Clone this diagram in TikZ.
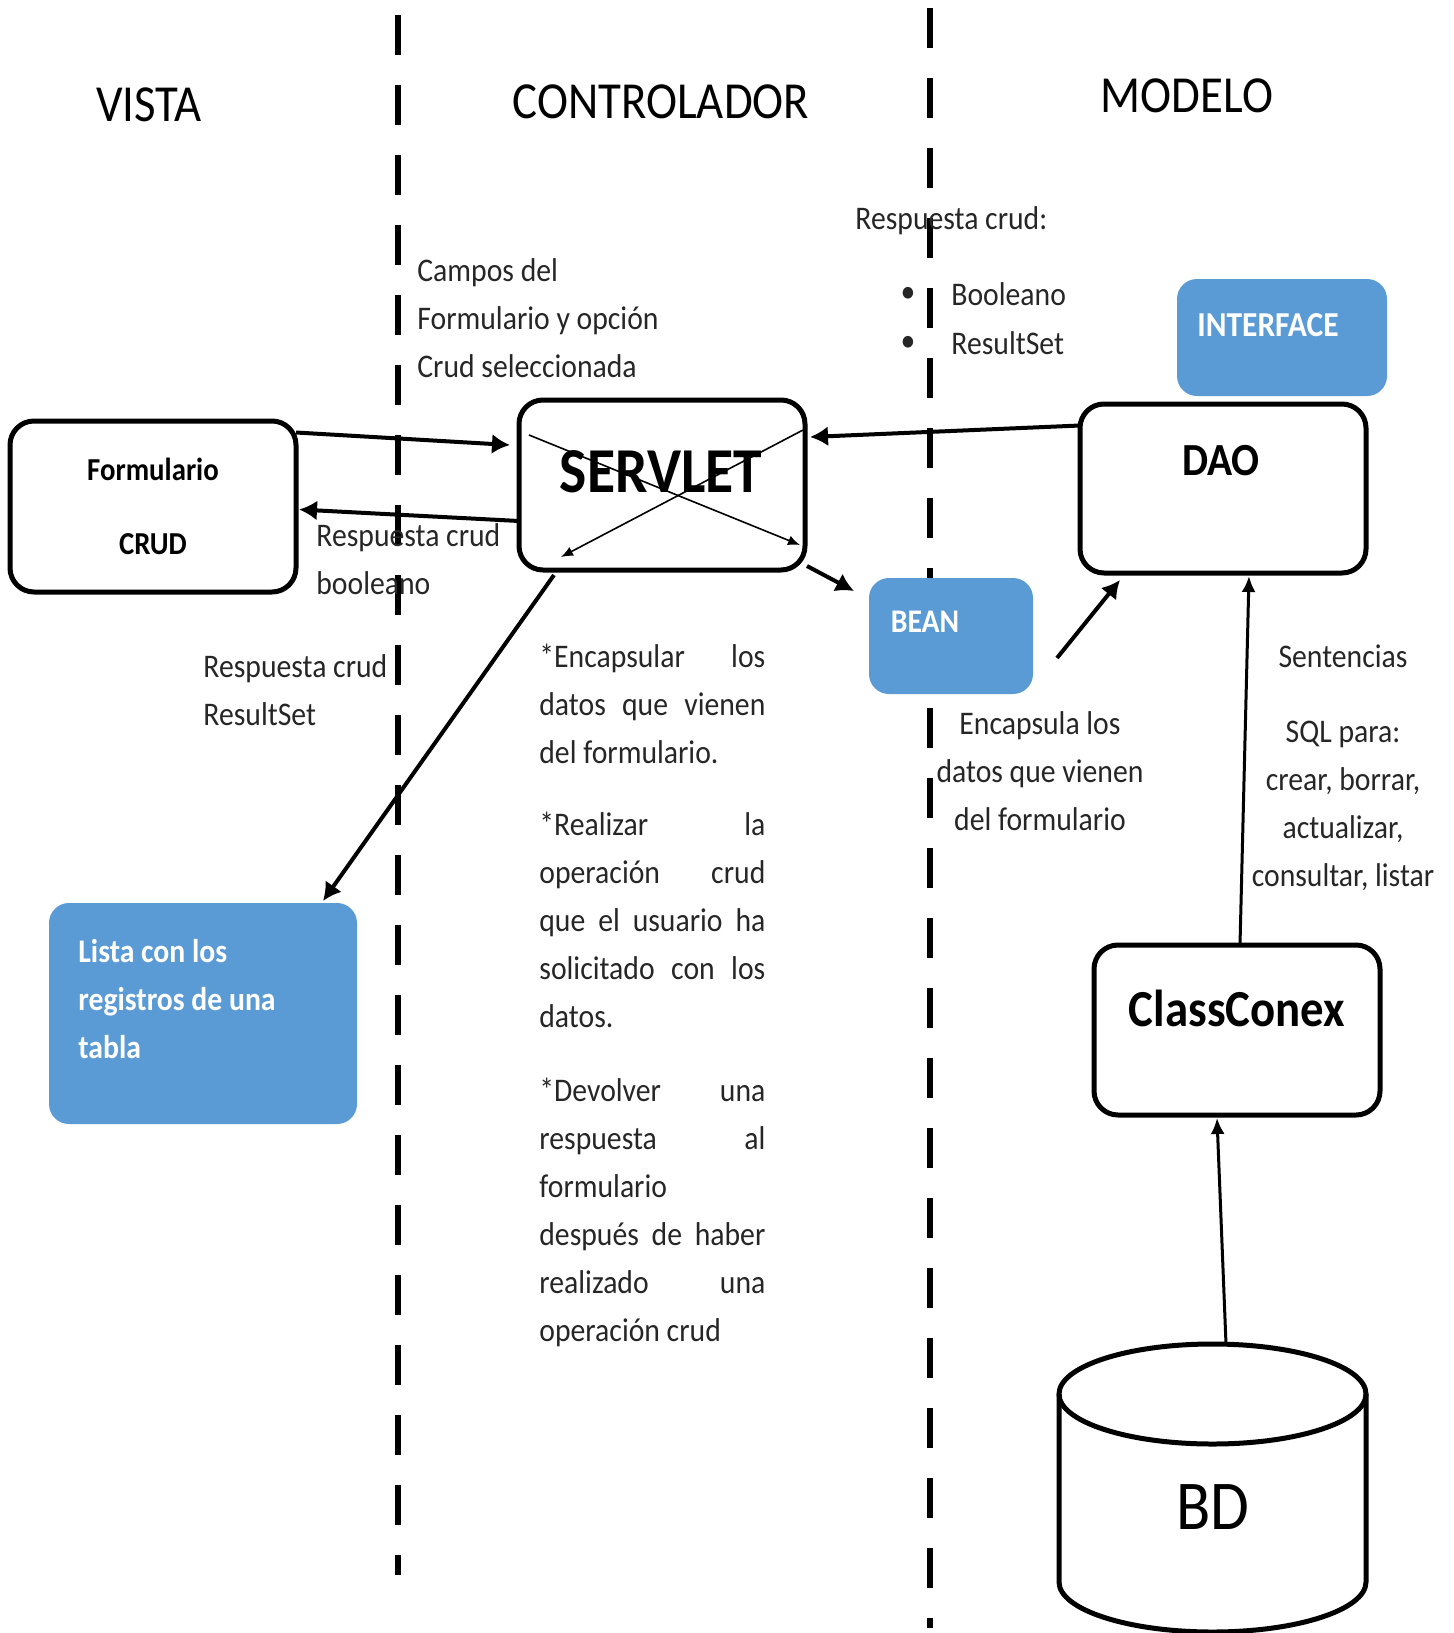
\documentclass[tikz,border=0pt]{standalone}
\usepackage{fontspec}
\setmainfont{Carlito}[FakeStretch=0.9]
\usetikzlibrary{arrows.meta}
\definecolor{officeblue}{HTML}{5B9BD5}
\tolerance=10000
\hbadness=10000

\tikzset{
  box/.style={draw, line width=2.5pt, rounded corners=12pt, outer sep=0pt, inner sep=0pt},
  bluebox/.style={fill=officeblue, rounded corners=10pt, outer sep=0pt, inner sep=0pt},
  txt/.style={inner sep=0pt, text=black!85, font=\fontsize{16.5}{24}\selectfont},
  wtxt/.style={inner sep=0pt, text=white, font=\bfseries\fontsize{16.5}{24}\selectfont},
  head/.style={inner sep=0pt, font=\fontsize{26}{30}\selectfont},
  arr/.style={line width=2pt, -{Latex[length=9pt,width=10pt]}},
  longarr/.style={line width=1.5pt, -{Latex[length=8pt,width=7pt]}},
  thinarr/.style={line width=0.8pt, -{Latex[length=6pt,width=5pt]}},
  lane/.style={line width=3.2pt, dash pattern=on 20pt off 15pt},
}

\begin{document}
\begin{tikzpicture}[x=0.5pt, y=-0.5pt]
\useasboundingbox (0,0) rectangle (1453,1633);
\draw[lane] (398,15) -- (398,1575);
\draw[lane] (930,8) -- (930,1628);

\node[head] (vista) at (149,105) {VISTA};
\node[head] (controlador) at (661,102) {CONTROLADOR};
\node[head] (modelo) at (1187,96) {MODELO};

\node[box, minimum width=143pt, minimum height=85.5pt, align=center, font=\bfseries\fontsize{16}{37}\selectfont] (form) at (153,506.5) {Formulario\\CRUD};
\node[box, minimum width=143pt, minimum height=85pt] (servlet) at (662,485) {};
\node[font=\bfseries\fontsize{32}{36}\selectfont, inner sep=0pt] (servlettxt) at (661,472) {SERVLET};
\node[bluebox, minimum width=105pt, minimum height=58.5pt] (interface) at (1282,337.5) {};
\node[wtxt, font=\bfseries\fontsize{17.5}{24}\selectfont] (interfacetxt) at (1268,325) {INTERFACE};
\node[box, minimum width=143pt, minimum height=84.5pt] (dao) at (1223,488.5) {};
\node[font=\bfseries\fontsize{23}{28}\selectfont, inner sep=0pt] (daotxt) at (1221,461) {DAO};
\node[bluebox, minimum width=82pt, minimum height=58pt] (bean) at (951,636) {};
\node[wtxt] (beantxt) at (925,622) {BEAN};
\node[box, minimum width=143pt, minimum height=85pt] (classconex) at (1237,1030) {};
\node[font=\bfseries\fontsize{26}{30}\selectfont, inner sep=0pt] (classconextxt) at (1237,1008) {ClassConex};
\node[bluebox, minimum width=154pt, minimum height=110.5pt] (lista) at (203,1013.5) {};
\node[wtxt, anchor=base west, align=left] (listatxt) at (78,1058) {Lista con los\\registros de una\\tabla};

\draw[line width=2.5pt] (1059,1394) -- (1059,1582) arc[start angle=180, end angle=0, x radius=153.5, y radius=50] -- (1366,1394);
\draw[line width=2.5pt] (1212.5,1394) ellipse [x radius=153.5, y radius=50];
\coordinate (bdtop) at (1226,1344);
\node[font=\fontsize{35}{40}\selectfont, inner sep=0pt] (bd) at (1213,1507) {BD};

\node[txt, anchor=base west, align=left] (campos) at (417,377) {Campos del\\Formulario y opción\\Crud seleccionada};
\node[txt, anchor=base west, align=left] (respbool) at (316,594) {Respuesta crud\\booleano};
\node[txt, anchor=base west, align=left] (respset) at (203,725) {Respuesta crud\\ResultSet};
\node[txt, anchor=base west] (respcrud) at (855,229) {Respuesta crud:};
\node[txt] (dot1) at (908,295) {•};
\node[txt] (dot2) at (908,344) {•};
\node[txt, anchor=base west] (booleano) at (951,305) {Booleano};
\node[txt, anchor=base west] (resultset) at (951,354) {ResultSet};
\node[txt, anchor=base, align=center] (encapsula) at (1040,830) {Encapsula los\\datos que vienen\\del formulario};
\node[txt, anchor=base, align=center] (sentencias) at (1343,886) {Sentencias\\[13.5pt]SQL para:\\crear, borrar,\\actualizar,\\consultar, listar};

\node[txt, text width=113pt, align=justify, anchor=base west] (tarea1) at (539,667) {*Encapsular los\linebreak datos que vienen\linebreak del formulario.};
\node[txt, text width=113pt, align=justify, anchor=base west] (tarea2) at (539,835) {*Realizar la\linebreak operación crud\linebreak que el usuario ha\linebreak solicitado con los\linebreak datos.};
\node[txt, text width=113pt, align=justify, anchor=base west] (tarea3) at (539,1101) {*Devolver una\linebreak respuesta al\linebreak formulario\linebreak después de haber\linebreak realizado una\linebreak operación crud};

\draw[arr] ([shift={(0,-74)}]form.east) -- ([shift={(-9,-40)}]servlet.west);
\draw[arr] ([shift={(0,36)}]servlet.west) -- ([shift={(3,3)}]form.east);
\draw[arr] ([shift={(0,-63)}]dao.west) -- ([shift={(5,-48)}]servlet.east);
\draw[arr] ([shift={(2,-4)}]servlet.south east) -- ([shift={(-15,13)}]bean.north west);
\draw[arr] ([shift={(24,22)}]bean.east) -- ([shift={(40,7)}]dao.south west);
\draw[arr] ([shift={(-108,5)}]servlet.south) -- ([shift={(120,-2)}]lista.north);
\draw[longarr] ([shift={(3,0)}]classconex.north) -- ([shift={(26,3)}]dao.south);
\draw[longarr] (bdtop) -- ([shift={(-20,3)}]classconex.south);
\draw[thinarr] ([shift={(10,35)}]servlet.north west) -- ([shift={(-5,-25)}]servlet.south east);
\draw[thinarr] ([shift={(-2,30)}]servlet.north east) -- ([shift={(42,-13)}]servlet.south west);
\end{tikzpicture}
\end{document}
